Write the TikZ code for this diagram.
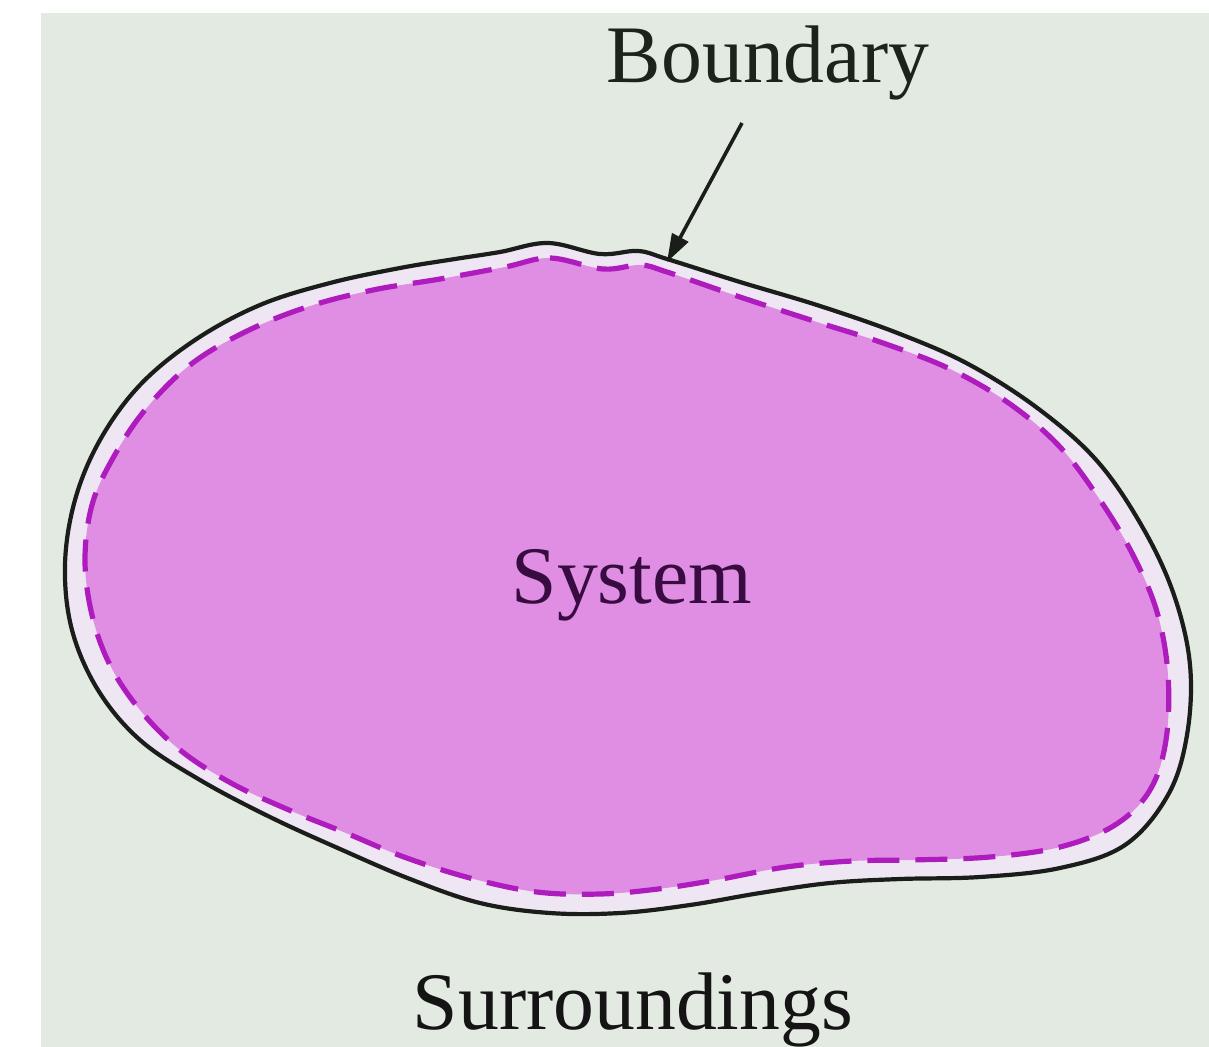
\documentclass[tikz,border=0pt]{standalone}
\usepackage{fontspec}
\setmainfont{Liberation Serif}
\usetikzlibrary{arrows.meta}
\definecolor{bgpaper}{HTML}{E2EAE1}
\definecolor{palestrip}{HTML}{EEE7F3}
\definecolor{sysfill}{HTML}{DF8EE4}
\definecolor{dashcol}{HTML}{AE1CBE}
\definecolor{outline}{HTML}{1A1D1A}
\definecolor{labeltext}{HTML}{1A241A}
\definecolor{systext}{HTML}{380C40}
\tikzset{
  bigtext/.style={font=\fontsize{82}{98}\selectfont, inner sep=0pt, anchor=base},
  outerline/.style={draw=outline, line width=4.2bp, fill=palestrip},
  innerline/.style={draw=dashcol, line width=5.2bp, fill=sysfill, dash pattern=on 32bp off 16bp},
  pointer/.style={draw=outline, line width=3.6bp, -{Triangle[length=28bp,width=18bp]}}
}
\begin{document}
\begin{tikzpicture}[x=1bp,y=-1bp]
\useasboundingbox (0,0) rectangle (1209,1047);
\fill[white] (0,0) rectangle (1209,1047);
\fill[bgpaper] (41,13) rectangle (1209,1047);
% boundary (outer black line)
\path[outerline] plot[smooth cycle, tension=0.6] coordinates {
 (500,252) (548,243) (600,254) (638,251) (667,259)
 (740,282) (820,306) (900,334) (970,365) (1040,410) (1098,462)
 (1143,528) (1174,595) (1190,665) (1187,735) (1168,795) (1125,845)
 (1060,868) (980,877) (900,879) (830,883) (760,893) (690,905)
 (620,913) (550,913) (480,903) (410,879) (340,849) (270,817)
 (200,780) (140,740) (98,690) (72,630) (65,565) (75,500) (100,440)
 (140,385) (195,340) (260,305) (330,283) (400,268) (455,259)};
% system (dashed line)
\path[innerline] plot[smooth cycle, tension=0.6] coordinates {
 (505,267) (550,258) (603,269) (640,265) (667,272)
 (740,297) (817,322) (883,343) (950,369) (1010,404) (1060,447)
 (1100,500) (1133,555) (1157,612) (1168,675) (1166,740) (1150,790)
 (1115,825) (1060,847) (990,857) (911,860) (852,861) (786,867)
 (716,880) (658,889) (600,894) (537,892) (470,878) (404,857)
 (346,833) (289,810) (231,783) (180,750) (140,710) (110,665)
 (92,615) (85,560) (92,505) (113,458) (145,410) (190,365)
 (245,332) (307,307) (373,290) (440,279)};
% labels
\node[bigtext, text=labeltext] (bnd) at (768,82) {Boundary};
\node[bigtext, text=systext] (sys) at (632,603) {System};
\node[bigtext, text=black!92] (sur) at (633,1029) {Surroundings};
% pointer
\coordinate (tail) at (742,123);
\coordinate (tip) at (667,262);
\draw[pointer] (tail) -- (tip);
\end{tikzpicture}
\end{document}
